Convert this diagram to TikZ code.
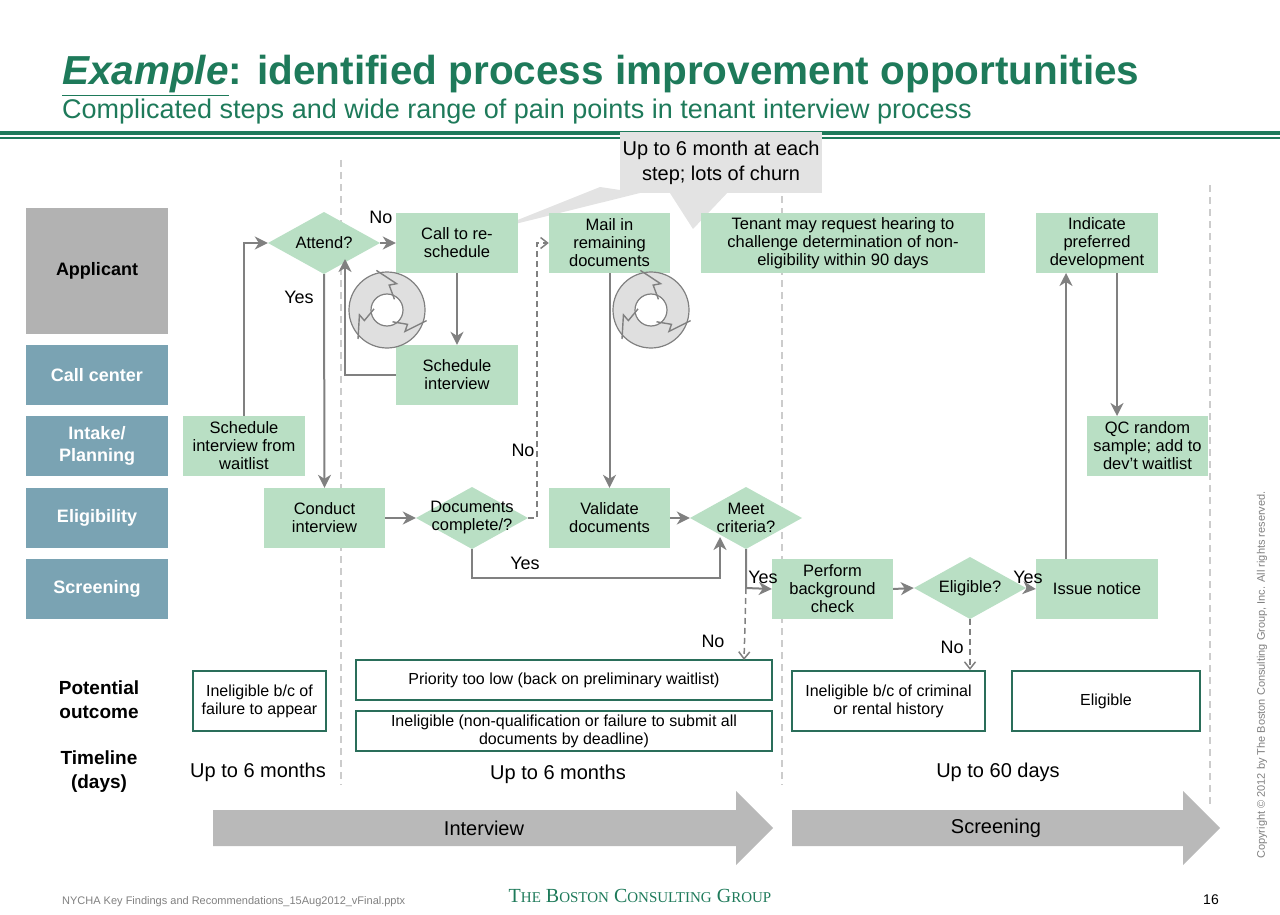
\documentclass[tikz,border=0pt]{standalone}
\usepackage{fontspec}
\setmainfont{Liberation Sans}
\usetikzlibrary{shapes.geometric,arrows.meta,calc}
\definecolor{bcg}{HTML}{1E7A5A}
\definecolor{box}{HTML}{B9DFC4}
\definecolor{lane}{HTML}{7AA3B3}
\definecolor{ln}{HTML}{808080}
\definecolor{obord}{HTML}{2A6E5A}
\begin{document}
\begin{tikzpicture}[x=1pt,y=-1pt,
  proc/.style={fill=box,draw=none,align=center,font=\fontsize{16.5}{18}\selectfont,inner sep=0pt},
  dia/.style={rectangle,draw=none,align=center,font=\fontsize{16.5}{18}\selectfont,inner sep=0pt,minimum width=112pt,minimum height=62pt,
    path picture={\fill[box] (path picture bounding box.west) -- (path picture bounding box.north) -- (path picture bounding box.east) -- (path picture bounding box.south) -- cycle;}},
  lanel/.style={fill=lane,text=white,font=\bfseries\fontsize{18}{22}\selectfont,align=center,inner sep=0pt},
  outc/.style={draw=obord,line width=1.4pt,fill=white,align=center,font=\fontsize{16}{18}\selectfont,inner sep=0pt},
  ar/.style={draw=ln,line width=2pt,-{Stealth[length=13pt,width=13pt,inset=4pt]}},
  dar/.style={draw=ln,line width=1.5pt,dash pattern=on 6pt off 4pt,-{Straight Barb[length=7pt,width=11pt]}},
  lbl/.style={font=\fontsize{18}{20}\selectfont,inner sep=0pt},
  sep/.style={draw=gray!40,line width=1.2pt,dash pattern=on 7pt off 5pt}]
\useasboundingbox (0,0) rectangle (1280,915);
% title
\node[anchor=base west,inner sep=0pt,text=bcg,font=\bfseries\fontsize{40.5}{44}\selectfont] (title) at (62,85) {\underline{\itshape Example}: identified process improvement opportunities};
\node[anchor=base west,inner sep=0pt,text=bcg,font=\fontsize{27}{29}\selectfont] (sub) at (62,119) {Complicated steps and wide range of pain points in tenant interview process};
\fill[bcg] (0,131) rectangle (1280,135);
\fill[bcg] (0,137.5) rectangle (1280,139);
% separators
\draw[sep] (341,160) -- (341,785);
\draw[sep] (782,160) -- (782,785);
\draw[sep] (1210,185) -- (1210,805);
% lanes
\node[lanel,fill=gray!60,text=black,minimum width=142pt,minimum height=126pt] (lA) at (97,271) {Applicant};
\node[lanel,minimum width=142pt,minimum height=60pt] (lC) at (97,375) {Call center};
\node[lanel,minimum width=142pt,minimum height=60pt] (lI) at (97,446) {Intake/\\Planning};
\node[lanel,minimum width=142pt,minimum height=60pt] (lE) at (97,518) {Eligibility};
\node[lanel,minimum width=142pt,minimum height=60pt] (lS) at (97,589) {Screening};
% callout
\fill[gray!22] (600,187) -- (495,229) -- (640,193) -- cycle;
\fill[gray!22] (668,190) -- (693,229) -- (730,190) -- cycle;
\node[fill=gray!22,minimum width=202pt,minimum height=61pt,align=center,font=\fontsize{20}{25}\selectfont,inner sep=0pt] (call) at (721,162.5) {Up to 6 month at each\\step; lots of churn};
% nodes
\node[dia] (att) at (324,243) {Attend?};
\node[proc,minimum width=122pt,minimum height=60pt] (cre) at (457,243) {Call to re-\\schedule};
\node[proc,minimum width=121pt,minimum height=60pt] (mail) at (609.5,243) {Mail in\\remaining\\documents};
\node[proc,minimum width=284pt,minimum height=60pt] (ten) at (843,243) {Tenant may request hearing to\\challenge determination of non-\\eligibility within 90 days};
\node[proc,minimum width=122pt,minimum height=60pt] (ind) at (1097,243) {Indicate\\preferred\\development};
\node[proc,minimum width=122pt,minimum height=60pt] (sch) at (457,375) {Schedule\\interview};
\node[proc,minimum width=122pt,minimum height=60pt] (swl) at (244,446) {Schedule\\interview from\\waitlist};
\node[proc,minimum width=121pt,minimum height=60pt] (qc) at (1147.5,446) {QC random\\sample; add to\\dev't waitlist};
\node[proc,minimum width=121pt,minimum height=60pt] (con) at (324.5,518) {Conduct\\interview};
\node[dia] (doc) at (472,518) {Documents\\complete/?};
\node[proc,minimum width=121pt,minimum height=60pt] (val) at (609.5,518) {Validate\\documents};
\node[dia] (meet) at (746,518) {Meet\\criteria?};
\node[proc,minimum width=121pt,minimum height=60pt] (bg) at (832.5,589) {Perform\\background\\check};
\node[dia] (eli) at (970,588) {Eligible?};
\node[proc,minimum width=122pt,minimum height=60pt] (iss) at (1097,589) {Issue notice};
% cycle icons
\foreach \n/\cx in {cyA/387,cyB/651}{
  \coordinate (\n) at (\cx,310);
  \fill[gray!25,draw=ln,line width=1.2pt,even odd rule] (\n) circle (38) (\n) circle (16);
  \foreach \a in {30,150,270}{
    \draw[draw=ln,line width=1.4pt,line join=miter] ($(\n)+(\a-15:41)$) -- ($(\n)+(\a+20:28)$) -- ($(\n)+(\a+5:25)$) -- ($(\n)+(\a+35:13)$);
  }
}
% edges
\draw[ar] (swl.north) -- (244,243) -- (att.west);
\draw[ar] (att.east) -- (cre.west);
\node[lbl] (no1) at (381,217) {No};
\draw[ar] (att.south) -- (con.north);
\node[lbl] (yes1) at (299,297) {Yes};
\draw[ar] (cre.south) -- (sch.north);
\draw[ar] (sch.west) -- (345,375) -- (345,259);
\draw[ar] (con.east) -- (doc.west);
\draw[dar] (doc.east) -- (537,518) -- (537,243) -- (mail.west);
\node[lbl] (no2) at (523,450) {No};
\draw[ar] (doc.south) -- (472,578) -- (720,578) -- (720,537);
\node[lbl] (yes2) at (525,563) {Yes};
\draw[ar] (mail.south) -- (val.north);
\draw[ar] (val.east) -- (meet.west);
\draw[ar] (meet.south) -- (746,588) -- (bg.west);
\node[lbl] (yes3) at (763,577) {Yes};
\draw[ar] (bg.east) -- (eli.west);
\draw[ar] (eli.east) -- (iss.west);
\node[lbl] (yes4) at (1028,577) {Yes};
\draw[ar] (1066,559) -- (1066,273);
\draw[ar] (1117,273) -- (1117,416);
% outcomes
\node[outc,minimum width=133pt,minimum height=60pt] (o1) at (259.5,701) {Ineligible b/c of\\failure to appear};
\node[outc,minimum width=416pt,minimum height=40pt] (o2) at (564,680) {Priority too low (back on preliminary waitlist)};
\node[outc,minimum width=416pt,minimum height=40pt] (o3) at (564,731) {Ineligible (non-qualification or failure to submit all\\documents by deadline)};
\node[outc,minimum width=193pt,minimum height=60pt] (o4) at (888.5,701) {Ineligible b/c of criminal\\or rental history};
\node[outc,minimum width=188pt,minimum height=60pt] (o5) at (1106,701) {Eligible};
\draw[dar] (746,588) -- (744,660);
\node[lbl] (no3) at (713,641) {No};
\draw[dar] (eli.south) -- (970,670);
\node[lbl] (no4) at (952,647) {No};
% left labels
\node[font=\bfseries\fontsize{19}{24}\selectfont,align=center] (po) at (99,700) {Potential\\outcome};
\node[font=\bfseries\fontsize{19}{24}\selectfont,align=center] (tl) at (99,772) {Timeline\\(days)};
\node[font=\fontsize{20}{22}\selectfont] (t1) at (258,772) {Up to 6 months};
\node[font=\fontsize{20}{22}\selectfont] (t2) at (558,774) {Up to 6 months};
\node[font=\fontsize{20}{22}\selectfont] (t3) at (998,772) {Up to 60 days};
% phase arrows
\fill[gray!55] (213,810) -- (736,810) -- (736,791) -- (773,828) -- (736,865) -- (736,846) -- (213,846) -- cycle;
\fill[gray!55] (792,810) -- (1183,810) -- (1183,791) -- (1220,828) -- (1183,865) -- (1183,846) -- (792,846) -- cycle;
\node[font=\fontsize{20}{22}\selectfont] (ph1) at (484,828) {Interview};
\node[font=\fontsize{20}{22}\selectfont] (ph2) at (996,828) {Screening};
% footer
\node[anchor=base west,inner sep=0pt,text=gray,font=\fontsize{11}{12}\selectfont] (f1) at (62,904) {NYCHA Key Findings and Recommendations\_15Aug2012\_vFinal.pptx};
\node[anchor=base,inner sep=0pt,text=bcg,font=\fontspec{Liberation Serif}\fontsize{20}{20}\selectfont] (f2) at (640,902) {T{\fontsize{15}{15}\selectfont HE} B{\fontsize{15}{15}\selectfont OSTON} C{\fontsize{15}{15}\selectfont ONSULTING} G{\fontsize{15}{15}\selectfont ROUP}};
\node[anchor=base,inner sep=0pt,font=\fontsize{14}{15}\selectfont] (f3) at (1211,904) {16};
\node[rotate=90,text=gray,font=\fontsize{11}{12}\selectfont,inner sep=0pt] (cp) at (1262,675) {Copyright © 2012 by The Boston Consulting Group, Inc. All rights reserved.};
\end{tikzpicture}
\end{document}
